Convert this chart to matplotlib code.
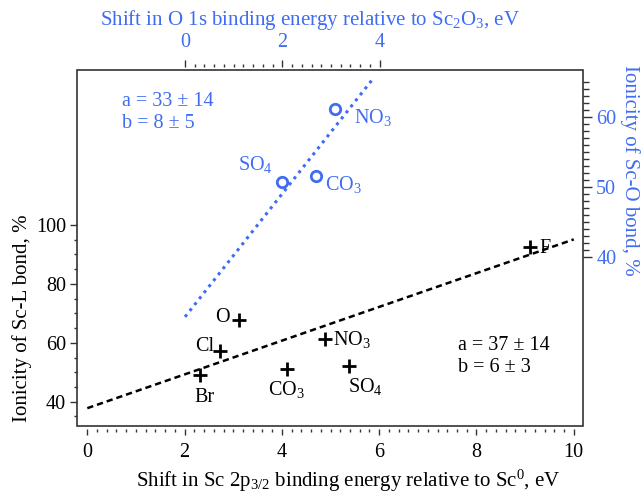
import numpy as np
import matplotlib
matplotlib.use('Agg')
import matplotlib.pyplot as plt
from matplotlib.ticker import FixedLocator

plt.rcParams['font.family'] = ['Liberation Serif', 'DejaVu Serif']
plt.rcParams['mathtext.fontset'] = 'custom'
plt.rcParams['mathtext.rm'] = 'Liberation Serif'
plt.rcParams['mathtext.it'] = 'Liberation Serif:italic'

BLUE = '#3f6cf2'
DARK = '#333333'

# Sc 2p3/2 shift vs ionicity of Sc-L bond (black crosses)
sc_shift = [3.11, 2.73, 2.32, 4.89, 4.10, 5.38, 9.10]
sc_ionicity = [67.8, 57.3, 49.1, 61.2, 51.0, 52.1, 92.5]
sc_names = ['O', 'Cl', 'Br', 'NO$_3$', 'CO$_3$', 'SO$_4$', 'F']

# O 1s shift vs ionicity of Sc-O bond (blue circles)
o_shift = [3.09, 1.99, 2.70]
o_ionicity = [61.1, 50.6, 51.5]
o_names = ['NO$_3$', 'SO$_4$', 'CO$_3$']

# linear fits (endpoints of drawn lines)
sc_fit_x = [0, 10]
sc_fit_y = [37.8, 95.1]
o_fit_x = [0, 3.85]
o_fit_y = [31.4, 65.3]

# label offsets in pixels, alignment
sc_lab = {'O': (-9, -2, 'right'), 'Cl': (-6, 0, 'right'), 'Br': (4, -27, 'center'),
          'NO$_3$': (8, -6, 'left'), 'CO$_3$': (0, -26, 'center'),
          'SO$_4$': (16, -26, 'center'), 'F': (9, -6, 'left')}
o_lab = {'NO$_3$': (19, -14, 'left'), 'SO$_4$': (-9, 12, 'right'), 'CO$_3$': (9, -14, 'left')}

W, H = 641, 494
fig = plt.figure(figsize=(W / 100, H / 100), dpi=100)
rect = [77 / W, 1 - 426 / H, (583 - 77) / W, (426 - 70) / H]

ax = fig.add_axes(rect)
ax.set_xlim(-0.212, 10.19)
ax.set_ylim(31.75, 152.6)
for s in ax.spines.values():
    s.set_visible(False)
ax.spines['bottom'].set_position(('outward', 2.2))
ax.add_patch(plt.Rectangle((0, 0), 1, 1, transform=ax.transAxes, fill=False,
                           ec=DARK, lw=1.2, clip_on=False, zorder=5))

ax.xaxis.set_major_locator(FixedLocator([0, 2, 4, 6, 8, 10]))
ax.xaxis.set_minor_locator(FixedLocator(np.arange(0, 10.01, 0.2)))
ax.yaxis.set_major_locator(FixedLocator([40, 60, 80, 100]))
ax.yaxis.set_minor_locator(FixedLocator(np.arange(35, 101, 5)))
ax.tick_params(axis='x', which='major', length=4.2, width=1, color=DARK, pad=6, labelsize=14.5)
ax.tick_params(axis='x', which='minor', length=2.2, width=1, color=DARK)
ax.tick_params(axis='y', which='major', length=4.8, width=1, color=DARK, pad=3, labelsize=14.5)
ax.tick_params(axis='y', which='minor', length=2.4, width=1, color=DARK)

ax.plot(sc_fit_x, sc_fit_y, color='black', lw=1.8, ls=(0, (2.5, 1.6)), zorder=2)
ax.plot(sc_shift, sc_ionicity, '+', color='black', ms=10, mew=2, zorder=3)
for x, y, n in zip(sc_shift, sc_ionicity, sc_names):
    dx, dy, ha = sc_lab[n]
    ax.annotate(n, (x, y), xytext=(dx, dy), textcoords='offset pixels',
                ha=ha, va='baseline', fontsize=14.5)

ax2 = fig.add_axes(rect, frameon=False)
ax2.set_xlim(-2.22, 8.18)
ax2.set_ylim(15.81, 66.67)
ax2.xaxis.tick_top()
ax2.yaxis.tick_right()
for s in ax2.spines.values():
    s.set_visible(False)
ax2.spines['top'].set_position(('outward', 2))
ax2.xaxis.set_major_locator(FixedLocator([0, 2, 4]))
ax2.xaxis.set_minor_locator(FixedLocator(np.arange(0, 4.01, 0.2)))
ax2.yaxis.set_major_locator(FixedLocator([40, 50, 60]))
ax2.yaxis.set_minor_locator(FixedLocator(np.arange(40, 66, 1)))
ax2.tick_params(axis='x', which='major', length=4.8, width=1, color=DARK, pad=6,
                labelsize=14.5, labelcolor=BLUE)
ax2.tick_params(axis='x', which='minor', length=2.4, width=1, color=DARK)
ax2.tick_params(axis='y', which='major', length=6.5, width=1, color=DARK, pad=3,
                labelsize=14.5, labelcolor=BLUE)
ax2.tick_params(axis='y', which='minor', length=4.3, width=1, color=DARK)

ax2.plot(o_fit_x, o_fit_y, color=BLUE, lw=2.2, ls=(0, (1, 1.5)), zorder=2)
ax2.plot(o_shift, o_ionicity, 'o', mfc='white', mec=BLUE, ms=7.5, mew=2, zorder=3)
for x, y, n in zip(o_shift, o_ionicity, o_names):
    dx, dy, ha = o_lab[n]
    ax2.annotate(n, (x, y), xytext=(dx, dy), textcoords='offset pixels',
                 ha=ha, va='baseline', fontsize=14.5, color=BLUE)

def px(x, y):
    return x / W, 1 - y / H

fig.text(*px(122, 106), 'a = 33 ± 14', fontsize=14.5, color=BLUE, va='baseline')
fig.text(*px(122, 128), 'b = 8 ± 5', fontsize=14.5, color=BLUE, va='baseline')
fig.text(*px(458, 350), 'a = 37 ± 14', fontsize=14.5, va='baseline')
fig.text(*px(458, 372), 'b = 6 ± 3', fontsize=14.5, va='baseline')

fig.text(*px(310, 20), 'Shift in O 1s binding energy relative to Sc$_2$O$_3$, eV',
         fontsize=15, color=BLUE, ha='center', va='center')
fig.text(*px(348, 481), 'Shift in Sc 2p$_{3/2}$ binding energy relative to Sc$^0$, eV',
         fontsize=15, ha='center', va='center')
fig.text(*px(22, 318), 'Ionicity of Sc-L bond, %', fontsize=15, rotation=90,
         ha='center', va='center')
fig.text(*px(630, 170), 'Ionicity of Sc-O bond, %', fontsize=15, rotation=270,
         color=BLUE, ha='center', va='center')

fig.savefig('out.png', dpi=100)
